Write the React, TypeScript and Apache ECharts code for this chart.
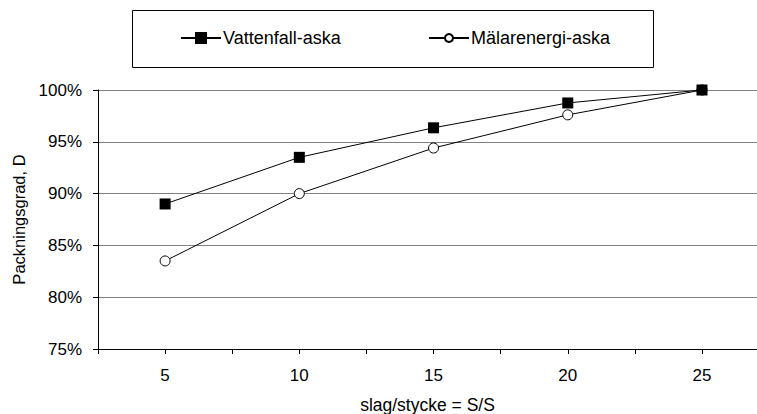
import React, { useEffect, useRef } from "react";
import * as echarts from "echarts";

// Packing degree D against blows per piece (S/S) for two ash types
const slagPerStycke = [5, 10, 15, 20, 25];
const vattenfall = [0.89, 0.935, 0.9635, 0.9875, 1.0];
const malarenergi = [0.835, 0.9, 0.944, 0.976, 1.0];
const xTicks = [2.5, 5, 7.5, 10, 12.5, 15, 17.5, 20, 22.5, 25];
const xLabels = [5, 10, 15, 20, 25];

const FONT = "'Liberation Sans', Arial, sans-serif";

export default function App() {
  const ref = useRef<HTMLDivElement>(null);

  useEffect(() => {
    if (!ref.current) return;
    const chart = echarts.init(ref.current, undefined, { renderer: "svg" });
    const pairs = (vals: number[]) => slagPerStycke.map((x, i) => [x, vals[i]]);
    const legendText = { fontFamily: FONT, fontSize: 18, color: "#000", padding: [0, 0, 0, -3] };

    chart.setOption({
      animation: false,
      backgroundColor: "#fff",
      textStyle: { fontFamily: FONT, color: "#000" },
      grid: {
        left: 98,
        top: 90,
        right: 0,
        bottom: 65,
        containLabel: false,
        outerBoundsMode: "none",
      },
      graphic: [
        {
          type: "rect",
          shape: { x: 132.5, y: 10.5, width: 521, height: 57 },
          style: { fill: "#fff", stroke: "#000", lineWidth: 1 },
          z: 0,
        },
      ],
      // one legend per series so each keeps its own marker size
      legend: [
        {
          left: 175,
          top: 24,
          itemWidth: 40,
          itemHeight: 15,
          data: ["Vattenfall-aska"],
          textStyle: legendText,
          z: 5,
        },
        {
          left: 423,
          top: 24,
          itemWidth: 40,
          itemHeight: 10,
          data: ["Mälarenergi-aska"],
          textStyle: legendText,
          z: 5,
        },
      ],
      xAxis: {
        type: "value",
        min: 2.5,
        max: 27.05,
        name: "slag/stycke = S/S",
        nameLocation: "middle",
        nameGap: 47,
        nameTextStyle: { fontFamily: FONT, fontSize: 17.5, color: "#000" },
        axisLine: { lineStyle: { color: "#000", width: 1 } },
        axisTick: { show: true, length: 5, customValues: xTicks, lineStyle: { color: "#000" } },
        axisLabel: {
          customValues: xLabels,
          margin: 18,
          fontFamily: FONT,
          fontSize: 17,
          color: "#000",
        },
        splitLine: { show: false },
      },
      yAxis: {
        type: "value",
        min: 0.75,
        max: 1.0,
        interval: 0.05,
        name: "Packningsgrad, D",
        nameLocation: "middle",
        nameGap: 64,
        nameRotate: 90,
        nameTextStyle: { fontFamily: FONT, fontSize: 16.5, color: "#000" },
        axisLine: { show: true, lineStyle: { color: "#000", width: 1 } },
        axisTick: { show: true, length: 5, lineStyle: { color: "#000" } },
        axisLabel: {
          margin: 16,
          fontFamily: FONT,
          fontSize: 17,
          color: "#000",
          formatter: (v: number) => `${Math.round(v * 100)}%`,
        },
        splitLine: { show: true, lineStyle: { color: "#808080", width: 1 } },
      },
      series: [
        {
          name: "Vattenfall-aska",
          type: "line",
          data: pairs(vattenfall),
          symbol: "rect",
          symbolSize: 11,
          z: 4,
          lineStyle: { color: "#000", width: 1 },
          itemStyle: { color: "#000", borderColor: "#000", borderWidth: 0 },
        },
        {
          name: "Mälarenergi-aska",
          type: "line",
          data: pairs(malarenergi),
          symbol: "circle",
          symbolSize: 10,
          z: 3,
          lineStyle: { color: "#000", width: 1 },
          itemStyle: { color: "#fff", borderColor: "#000", borderWidth: 1 },
        },
      ],
    });

    return () => chart.dispose();
  }, []);

  return (
    <div
      ref={ref}
      style={{ position: "fixed", left: 0, top: 0, width: 757, height: 414, background: "#fff" }}
    />
  );
}
